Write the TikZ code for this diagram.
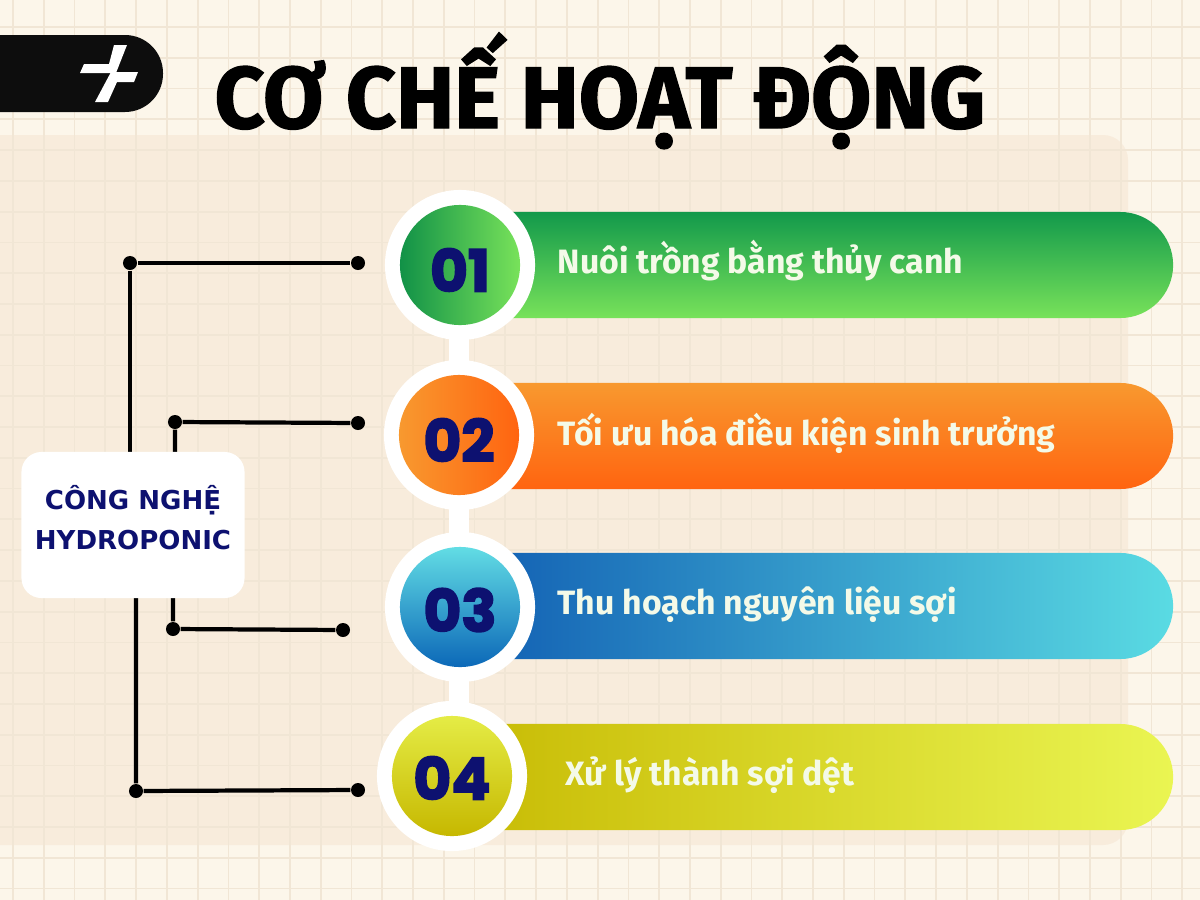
\documentclass[tikz,border=0pt]{standalone}
\usepackage{fontspec}
\setmainfont{Fira Sans}
\newfontfamily\titlefont[BoldFeatures={FakeBold=1.6}]{Fira Sans}
\newfontfamily\numfont[BoldFeatures={FakeBold=3}]{Poppins}
\newfontfamily\hubfont{DejaVu Sans}
\usetikzlibrary{positioning}

\definecolor{bgcream}{HTML}{FCF6EA}
\definecolor{panelcream}{HTML}{F8ECDC}
\definecolor{gridtan}{HTML}{F1E6D5}
\definecolor{navy}{HTML}{0D1170}
\definecolor{barwhite}{HTML}{F4FAE8}
\definecolor{greendark}{HTML}{12994B}
\definecolor{greenlight}{HTML}{78E25A}
\definecolor{orangelight}{HTML}{F8992F}
\definecolor{orangedark}{HTML}{FF6410}
\definecolor{bluedark}{HTML}{0D57B0}
\definecolor{bluelight}{HTML}{5ADBE3}
\definecolor{yellowdark}{HTML}{C6B800}
\definecolor{yellowlight}{HTML}{EAF552}

\begin{document}
\begin{tikzpicture}[x=0.01cm,y=-0.01cm,
  ring/.style={circle, fill=white, minimum size=1.5cm, inner sep=0pt},
  numdisc/.style={circle, minimum size=1.2cm, inner sep=0pt},
  numlabel/.style={text=navy, inner sep=0pt,
    font=\numfont\bfseries\fontsize{16.5}{16}\selectfont},
  bar/.style={rectangle, rounded corners=0.53cm, minimum width=7.42cm,
    minimum height=1.06cm, anchor=west, inner sep=0pt},
  bartext/.style={anchor=base west, text=barwhite, inner sep=0pt,
    font=\bfseries\fontsize{9.6}{10}\selectfont},
  dot/.style={circle, fill=black, inner sep=0pt, minimum size=0.14cm},
  wire/.style={line width=1.2pt, black},
  gridline/.style={gridtan, line width=0.5pt}]

  \useasboundingbox (0,0) rectangle (1200,900);

  % background, panel and grid
  \fill[bgcream] (0,0) rectangle (1200,900);
  \fill[panelcream, rounded corners=0.25cm] (-30,135) rectangle (1128,845);
  \foreach \gx in {0,...,38}
    \draw[gridline] (13+30.77*\gx,0) -- (13+30.77*\gx,900);
  \foreach \gy in {0,...,29}
    \draw[gridline] (0,27+30.77*\gy) -- (1200,27+30.77*\gy);

  % logo pill
  \fill[black!95, rounded corners=0.38cm] (-40,35) rectangle (163,112);
  \fill[white] (114,45) -- (127,45) -- (116,73) -- (80,73) -- (84,64)
    -- (109,64) -- cycle;
  \fill[white] (111,72) -- (138,72) -- (134,82) -- (117,82) -- (108,102)
    -- (95,102) -- cycle;

  % title
  \node[anchor=base, inner sep=0pt,
        font=\titlefont\bfseries\fontsize{24.8}{26}\selectfont
        ] (title) at (600,128) {CƠ CHẾ HOẠT ĐỘNG};

  % bars
  \node[bar, top color=greendark, bottom color=greenlight] (b1) at (430,265) {};
  \node[bar, top color=orangelight, bottom color=orangedark] (b2) at (430,436) {};
  \node[bar, left color=bluedark, right color=bluelight] (b3) at (430,606) {};
  \node[bar, left color=yellowdark, right color=yellowlight] (b4) at (430,777) {};

  \node[bartext] (l1) at (557,273) {Nuôi trồng bằng thủy canh};
  \node[bartext] (l2) at (557,445) {Tối ưu hóa điều kiện sinh trưởng};
  \node[bartext] (l3) at (557,614) {Thu hoạch nguyên liệu sợi};
  \node[bartext] (l4) at (565,785) {Xử lý thành sợi dệt};

  % white rings and their stem
  \fill[white] (449,265) rectangle (469,776);
  \node[ring] (r1) at (460,265) {};
  \node[ring] (r2) at (459,435) {};
  \node[ring] (r3) at (460,607) {};
  \node[ring] (r4) at (452,776) {};

  \node[numdisc, left color=greendark!95!black, right color=greenlight] (n1) at (r1) {};
  \node[numdisc, left color=orangelight, right color=orangedark] (n2) at (r2) {};
  \node[numdisc, top color=bluelight!95!white, bottom color=bluedark!90!cyan] (n3) at (r3) {};
  \node[numdisc, top color=yellowlight!85!yellowdark, bottom color=yellowdark] (n4) at (r4) {};

  \node[numlabel] (t1) at ([yshift=-0.05cm]n1.center) {01};
  \node[numlabel] (t2) at ([yshift=-0.05cm]n2.center) {02};
  \node[numlabel] (t3) at ([yshift=-0.03cm]n3.center) {03};
  \node[numlabel] (t4) at ([yshift=-0.02cm]n4.center) {04};

  % hub wires
  \node[dot] (a1) at (130,263) {};
  \node[dot] (a2) at (358,263) {};
  \node[dot] (c1) at (175,422) {};
  \node[dot] (c2) at (358,423) {};
  \node[dot] (e1) at (173,629) {};
  \node[dot] (e2) at (343,630) {};
  \node[dot] (g1) at (136,791) {};
  \node[dot] (g2) at (358,790) {};

  \coordinate (hubtop) at (133,470);
  \coordinate (hubbot) at (133,580);

  \draw[wire] (a2) -- (a1) -- (a1 |- hubtop);
  \draw[wire] (c2) -- (c1) -- (c1 |- hubtop);
  \draw[wire] (e2) -- (e1) -- (e1 |- hubbot);
  \draw[wire] (g2) -- (g1) -- (g1 |- hubbot);

  % hub box
  \node[rectangle,
        fill = white,
        rounded corners = 0.2cm,
        minimum width = 2.23cm,
        minimum height = 1.46cm
        ] (hub) at (133,525) {};
  \node[align=center, text=navy, inner sep=0pt,
        font=\hubfont\bfseries\fontsize{7.4}{11.4}\selectfont
        ] (hublabel) at (133,518) {CÔNG NGHỆ\\HYDROPONIC};

\end{tikzpicture}
\end{document}
